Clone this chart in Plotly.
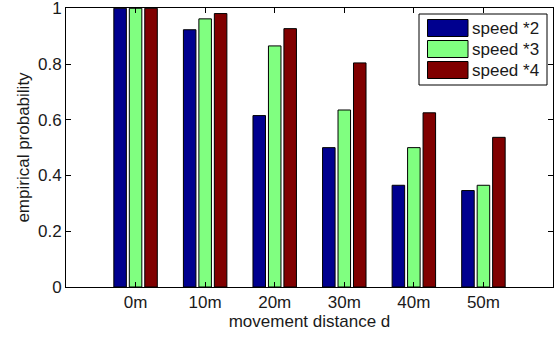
import plotly.graph_objects as go

categories = ["0m", "10m", "20m", "30m", "40m", "50m"]
series_names = ["speed *2", "speed *3", "speed *4"]
speed2 = [1.0, 0.923, 0.615, 0.500, 0.365, 0.346]
speed3 = [1.0, 0.962, 0.865, 0.635, 0.500, 0.365]
speed4 = [1.0, 0.981, 0.927, 0.804, 0.625, 0.537]
y_ticks = [0, 0.2, 0.4, 0.6, 0.8, 1]
y_tick_labels = ["0", "0.2", "0.4", "0.6", "0.8", "1"]
colors = ["#00008F", "#80FF80", "#800000"]

FONT = "Liberation Sans, Arial, Helvetica, sans-serif"
FS = 17
TXT = "#1a1a1a"

fig = go.Figure()
x_idx = list(range(len(categories)))
for name, vals, col in zip(series_names, [speed2, speed3, speed4], colors):
    fig.add_trace(go.Bar(
        x=x_idx, y=vals, name=name,
        marker=dict(color=col, line=dict(color="black", width=1)),
        showlegend=False,
    ))

W, H = 557, 338
ml, mr, mt, mb = 66, 4, 8, 51
pw, ph = W - ml - mr, H - mt - mb

def px(x):
    return (x - ml) / pw

def py(y):
    return (H - mb - y) / ph

# manual legend (MATLAB-style large swatches)
shapes = [dict(type="rect", xref="paper", yref="paper",
               x0=px(419), x1=px(547), y0=py(85), y1=py(14),
               line=dict(color="black", width=1), fillcolor="white", layer="above")]
annotations = []
sw_y = [(19.5, 36.5), (40.5, 57.5), (61.5, 78.5)]
for (ya, yb), name, col in zip(sw_y, series_names, colors):
    shapes.append(dict(type="rect", xref="paper", yref="paper",
                       x0=px(427.5), x1=px(468), y0=py(yb), y1=py(ya),
                       line=dict(color="black", width=1), fillcolor=col, layer="above"))
    annotations.append(dict(xref="paper", yref="paper", x=px(470), y=py((ya + yb) / 2),
                            text=name, showarrow=False, xanchor="left", yanchor="middle",
                            font=dict(family=FONT, size=FS, color=TXT)))

fig.update_layout(
    width=W, height=H,
    margin=dict(l=ml, r=mr, t=mt, b=mb, autoexpand=False),
    paper_bgcolor="white", plot_bgcolor="white",
    barmode="group", bargap=0.333, bargroupgap=0.19,
    font=dict(family=FONT, size=FS, color=TXT),
    shapes=shapes, annotations=annotations,
    showlegend=False,
)
fig.update_xaxes(
    range=[-1, 6], tickvals=x_idx, ticktext=categories,
    ticks="inside", ticklen=5, tickcolor="black",
    showline=True, linecolor="black", linewidth=1, mirror="ticks",
    showgrid=False, zeroline=False, ticklabeloverflow="allow",
    title=dict(text="movement distance d", standoff=0, font=dict(size=FS)),
    tickfont=dict(size=FS),
)
fig.update_yaxes(
    range=[0, 1.001], tickvals=y_ticks, ticktext=y_tick_labels,
    ticks="inside", ticklen=5, tickcolor="black",
    showline=True, linecolor="black", linewidth=1, mirror="ticks",
    showgrid=False, zeroline=False, ticklabeloverflow="allow",
    title=dict(text="empirical probability", standoff=4, font=dict(size=FS)),
    tickfont=dict(size=FS),
)

fig.write_html("out.html")
